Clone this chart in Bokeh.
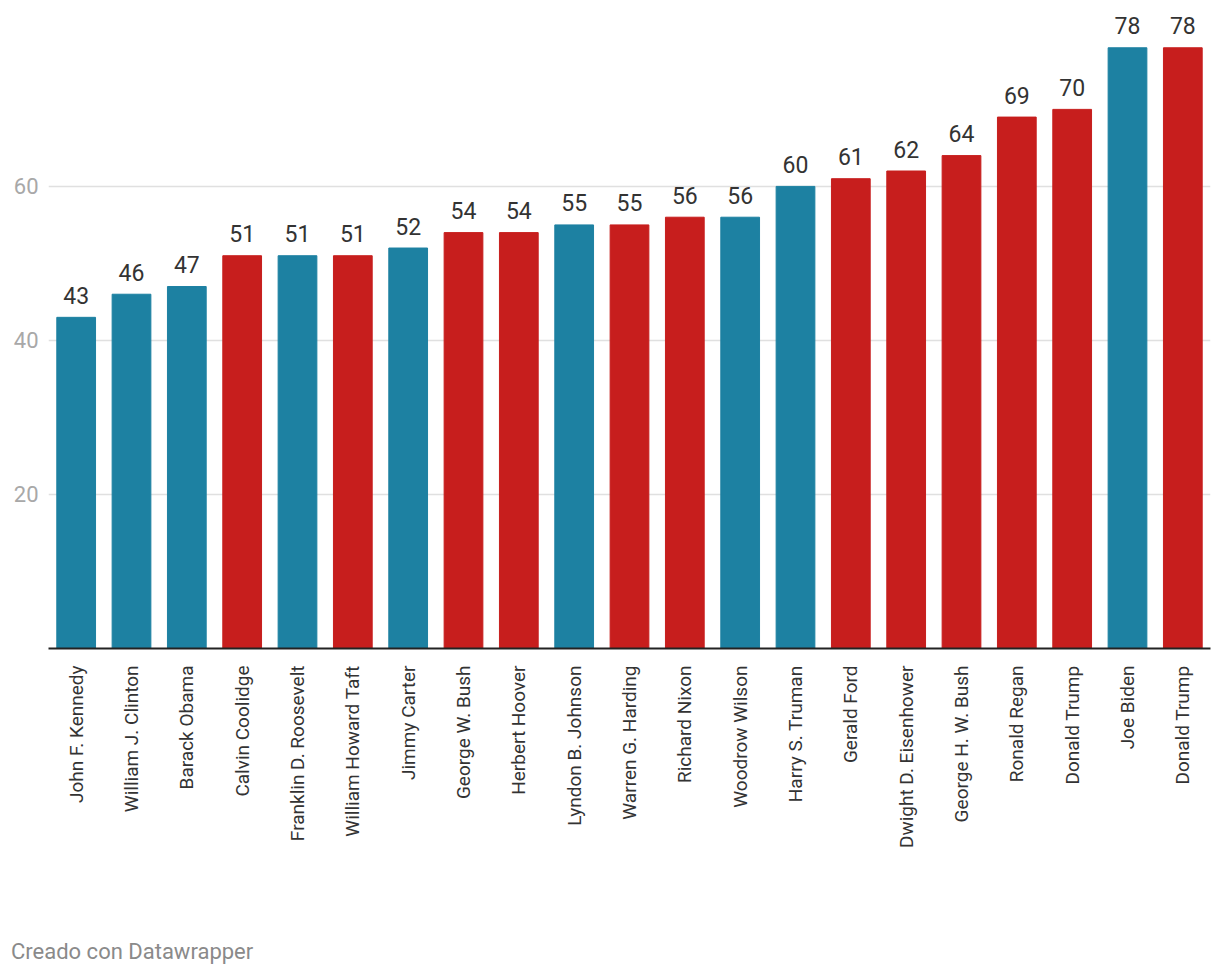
import math
from bokeh.plotting import figure
from bokeh.models import ColumnDataSource, FixedTicker, Range1d, Div
from bokeh.layouts import column
from bokeh.core.properties import value
from bokeh.embed import file_html
from bokeh.resources import INLINE

names = ["John F. Kennedy", "William J. Clinton", "Barack Obama", "Calvin Coolidge",
         "Franklin D. Roosevelt", "William Howard Taft", "Jimmy Carter", "George W. Bush",
         "Herbert Hoover", "Lyndon B. Johnson", "Warren G. Harding", "Richard Nixon",
         "Woodrow Wilson", "Harry S. Truman", "Gerald Ford", "Dwight D. Eisenhower",
         "George H. W. Bush", "Ronald Regan", "Donald Trump", "Joe Biden", "Donald Trump"]
ages = [43, 46, 47, 51, 51, 51, 52, 54, 54, 55, 55, 56, 56, 60, 61, 62, 64, 69, 70, 78, 78]
party = ["D", "D", "D", "R", "D", "R", "D", "R", "R", "D", "R", "R", "D", "D", "R", "R",
         "R", "R", "R", "D", "R"]
y_ticks = [20, 40, 60]

party_colors = {"D": "#1d81a2", "R": "#c71e1d"}
FONT = "Roboto"

xs = list(range(len(names)))
src = ColumnDataSource(dict(x=xs, age=ages, label=[str(a) for a in ages],
                            color=[party_colors[p] for p in party]))

p = figure(frame_width=1162, frame_height=640, output_backend="svg", toolbar_location=None,
           x_range=Range1d(-0.5, len(names) - 0.5), y_range=Range1d(0, 83.1),
           min_border_left=48, min_border_right=2, min_border_top=8,
           min_border_bottom=283)
p.outline_line_color = None
p.background_fill_color = "white"
p.border_fill_color = "white"

p.vbar(x="x", top="age", width=0.7, bottom=0, color="color", source=src)
p.text(x="x", y="age", text="label", source=src, text_align="center",
       text_baseline="alphabetic", y_offset=-22, text_font=value(FONT),
       text_font_size="23px", text_color="#333333")

# y axis
p.yaxis.ticker = FixedTicker(ticks=y_ticks)
p.yaxis.axis_line_color = None
p.yaxis.major_tick_line_color = None
p.yaxis.minor_tick_line_color = None
p.yaxis.major_label_standoff = 4
p.yaxis.major_label_text_font = FONT
p.yaxis.major_label_text_font_size = "22px"
p.yaxis.major_label_text_color = "#a8a8a8"
p.ygrid.ticker = FixedTicker(ticks=y_ticks)
p.ygrid.grid_line_color = "#e0e0e0"
p.ygrid.grid_line_width = 1.3
p.xgrid.grid_line_color = None

# x axis
p.xaxis.ticker = FixedTicker(ticks=xs)
p.xaxis.major_label_overrides = {i: n for i, n in enumerate(names)}
p.xaxis.major_label_orientation = math.pi / 2
p.xaxis.axis_line_color = "#222222"
p.xaxis.axis_line_width = 2
p.xaxis.major_tick_line_color = None
p.xaxis.minor_tick_line_color = None
p.xaxis.major_label_standoff = 11
p.xaxis.major_label_text_font = FONT
p.xaxis.major_label_text_font_size = "19px"
p.xaxis.major_label_text_color = "#333333"

footer = Div(text="Creado con Datawrapper", width=400, height=30,
             styles={"font-family": FONT, "font-size": "22px", "color": "#8a8a8a",
                     "padding-left": "6px"})

layout = column(p, footer)
open("out.html", "w").write(file_html(layout, INLINE))
